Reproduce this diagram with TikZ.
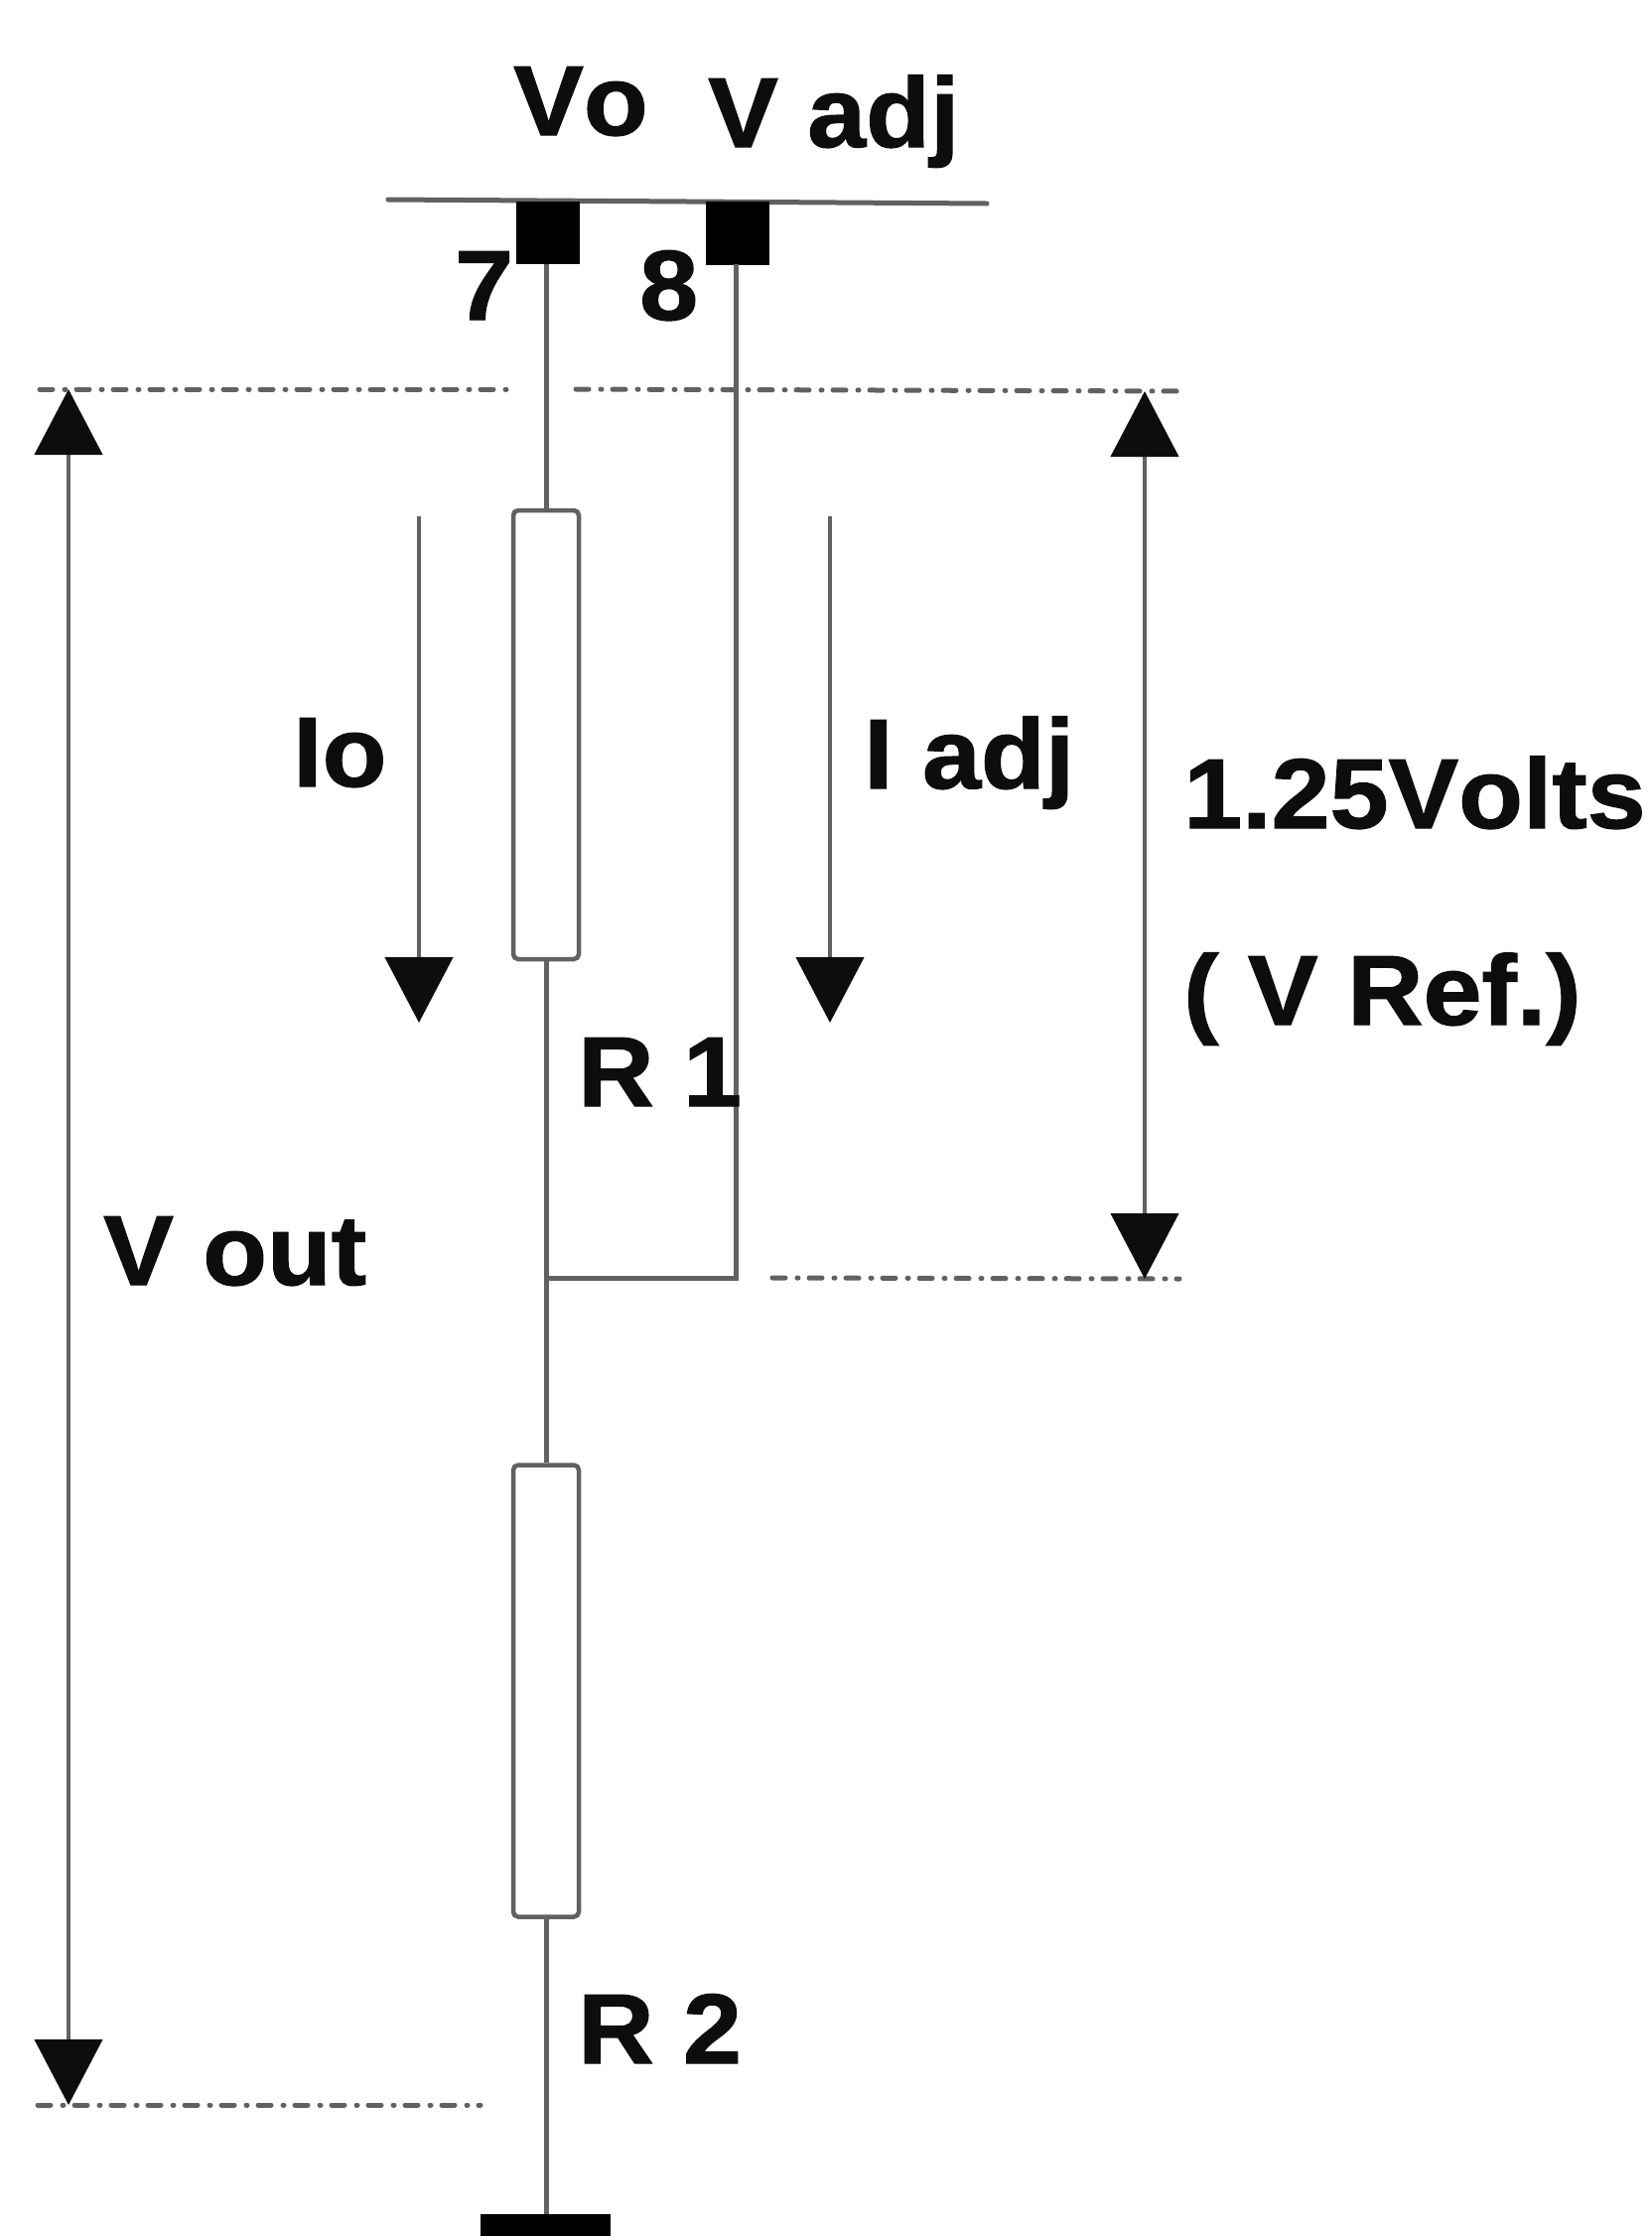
\documentclass[tikz,border=0pt]{standalone}
\usepackage{fontspec}
\setmainfont{Liberation Sans}[BoldFeatures={FakeStretch=1.06,FakeBold=1.2,Kerning=Off}]
\usetikzlibrary{arrows.meta}
\definecolor{wirec}{gray}{0.38}
\definecolor{inkc}{gray}{0.05}
\tikzset{
 wire/.style={draw=wirec,line width=5pt},
 res/.style={draw=wirec,line width=4.5pt,fill=white,rounded corners=5pt},
 pad/.style={fill=black,draw=none},
 dim/.style={draw=wirec,line width=5pt,line cap=round,dash pattern=on 13pt off 12pt on 1pt off 11pt},
 lab/.style={font=\bfseries\fontsize{100pt}{100pt}\selectfont,text=inkc,inner sep=0pt},
 arr/.style={draw=wirec,line width=4.5pt,-{Triangle[length=66pt,width=68pt,color=inkc]}},
 darr/.style={draw=wirec,line width=4.5pt,{Triangle[length=66pt,width=68pt,color=inkc]}-{Triangle[length=66pt,width=68pt,color=inkc]}},
}
\begin{document}
\begin{tikzpicture}[x=1pt,y=-1pt]
\useasboundingbox (0,0) rectangle (1663,2252);
\fill[white] (0,0) rectangle (1663,2252);
% bus and pads
\coordinate (busL) at (391,201); \coordinate (busR) at (994,205);
\draw[wire,line cap=round] (busL) -- (busR);
\path[pad] (520,203) rectangle (584,266);
\path[pad] (711,203) rectangle (775,267);
\coordinate (p7) at (550,266); \coordinate (p8) at (741,266);
\coordinate (j) at (550,1287); \coordinate (j8) at (741,1287);
\coordinate (g) at (550,2230);
% resistors
\node[res,minimum width=66pt,minimum height=452pt,inner sep=0pt] (r1) at (550,740) {};
\node[res,minimum width=66pt,minimum height=455pt,inner sep=0pt] (r2) at (550,1703) {};
\draw[wire] (p7) -- (r1.north);
\draw[wire] (r1.south) -- (r2.north);
\draw[wire] (r2.south) -- (g);
\draw[wire] (p8) -- (j8) -- (j);
\fill[black] (484,2230) rectangle (615,2252);
% dash-dot levels
\coordinate (a1) at (40,392); \coordinate (a2) at (515,392);
\coordinate (b1) at (580,392); \coordinate (b2) at (1188,394);
\coordinate (c1) at (778,1287); \coordinate (c2) at (1188,1288);
\coordinate (d1) at (38,2120); \coordinate (d2) at (484,2120);
\draw[dim] (a1) -- (a2);
\draw[dim] (b1) -- (b2);
\draw[dim] (c1) -- (c2);
\draw[dim] (d1) -- (d2);
% dimension arrows
\coordinate (v1) at (69,392); \coordinate (v2) at (69,2120);
\draw[darr] (v1) -- (v2);
\coordinate (r1t) at (1153,394); \coordinate (r1b) at (1153,1288);
\draw[darr] (r1t) -- (r1b);
\coordinate (i1) at (422,520); \coordinate (i2) at (422,1030);
\draw[arr] (i1) -- (i2);
\coordinate (k1) at (836,520); \coordinate (k2) at (836,1030);
\draw[arr] (k1) -- (k2);
% labels
\node[lab,anchor=base west] (vo) at (517,136) {Vo};
\node[lab,anchor=base west] (vadj) at (713,148) {V adj};
\node[lab,anchor=base west] (n7) at (458,322) {7};
\node[lab,anchor=base west] (n8) at (644,322) {8};
\node[lab,anchor=base west] (io) at (295,792) {Io};
\node[lab,anchor=base west] (iadj) at (870,794) {I adj};
\node[lab,anchor=base west] (volts) at (1192,834) {1.25Volts};
\node[lab,anchor=base west] (vref) at (1192,1032) {( V Ref.)};
\node[lab,anchor=base west] (r1l) at (582,1114) {R 1};
\node[lab,anchor=base west] (vout) at (104,1294) {V out};
\node[lab,anchor=base west] (r2l) at (582,2078) {R 2};
\end{tikzpicture}
\end{document}
